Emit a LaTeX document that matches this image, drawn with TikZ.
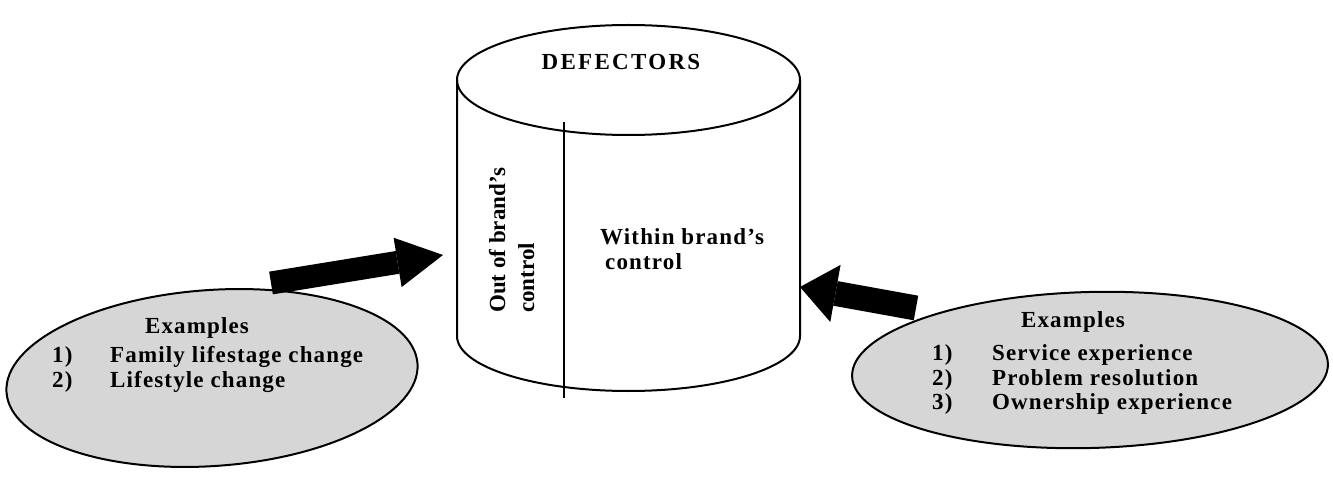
\documentclass[tikz,border=0pt]{standalone}
\usepackage{fontspec}
\setmainfont{Liberation Serif}
\usetikzlibrary{shapes.geometric,arrows.meta}
\begin{document}
\begin{tikzpicture}[x=1pt,y=-1pt,
  txt/.style={inner sep=0pt, font=\fontsize{23}{27}\selectfont\bfseries\addfontfeatures{LetterSpace=5}},
  txtplain/.style={inner sep=0pt, font=\fontsize{23}{27}\selectfont\bfseries},
  titletxt/.style={inner sep=0pt, font=\fontsize{23}{27}\selectfont\bfseries\addfontfeatures{LetterSpace=10}},
  exell/.style={ellipse, draw, line width=2pt, fill=black!16, inner sep=0pt},
  cyl/.style={draw, line width=2pt},
  barrow/.style n args={3}{line width=#1, line cap=butt,
     -{Triangle[length=#2, width=#3, line width=0pt]}}
]
\useasboundingbox (0,0) rectangle (1333,478);
\fill[white] (0,0) rectangle (1333,478);

% example ellipses
\node[exell, minimum width=412pt, minimum height=176pt, rotate=4] (lell) at (212,378) {};
\node[exell, minimum width=476pt, minimum height=156pt, rotate=1.5] (rell) at (1090,370) {};

% cylinder
\coordinate (ctop) at (628.5,80);
\coordinate (cbl) at (457,336);
\draw[cyl] (457,80) -- (cbl) arc[start angle=180, end angle=0, x radius=171.5, y radius=55] -- (800,80);
\draw[cyl] (ctop) ellipse [x radius=171.5, y radius=55];
\coordinate (dtop) at (564,122);
\coordinate (dbot) at (564,398);
\draw[cyl] (dtop) -- (dbot);

\node[titletxt] (def) at (621,62) {DEFECTORS};
\node[txt, anchor=base west] (w1) at (600,245) {Within brand’s};
\node[txt, anchor=base west] (w2) at (605,270) {control};
\node[txtplain, rotate=90, anchor=base west] (o1) at (505,313) {Out of brand’s};
\node[txtplain, rotate=90, anchor=base west] (o2) at (534,313) {control};

% left examples
\node[txt, anchor=base] (lex) at (197,333) {Examples};
\node[txt, anchor=base west] (ln1) at (52,362) {1)};
\node[txt, anchor=base west] (li1) at (110,362) {Family lifestage change};
\node[txt, anchor=base west] (ln2) at (52,387) {2)};
\node[txt, anchor=base west] (li2) at (110,387) {Lifestyle change};

% right examples
\node[txt, anchor=base] (rex) at (1073,327) {Examples};
\node[txt, anchor=base west] (rn1) at (932,360) {1)};
\node[txt, anchor=base west] (ri1) at (992,360) {Service experience};
\node[txt, anchor=base west] (rn2) at (932,385) {2)};
\node[txt, anchor=base west] (ri2) at (992,385) {Problem resolution};
\node[txt, anchor=base west] (rn3) at (932,409) {3)};
\node[txt, anchor=base west] (ri3) at (992,409) {Ownership experience};

% block arrows
\coordinate (la1) at (271,283);
\coordinate (la2) at (443,255);
\draw[barrow={23pt}{46pt}{50pt}] (la1) -- (la2);
\coordinate (ra1) at (916,308);
\coordinate (ra2) at (800,287);
\draw[barrow={25pt}{36pt}{58pt}] (ra1) -- (ra2);
\end{tikzpicture}
\end{document}
